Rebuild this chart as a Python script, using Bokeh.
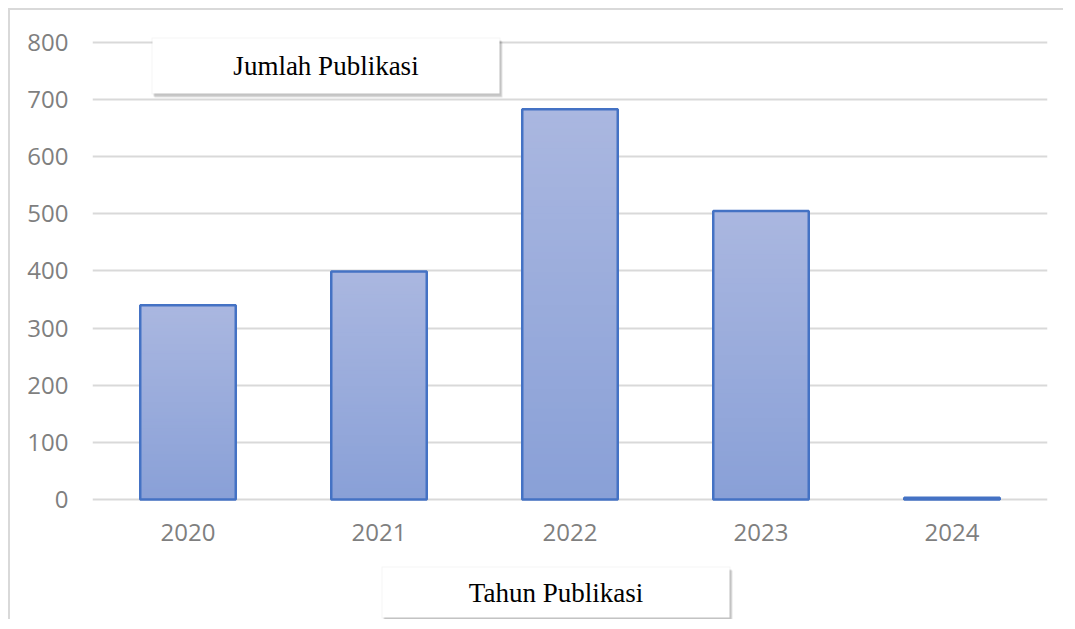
from bokeh.plotting import figure
from bokeh.models import FactorRange, Range1d, FixedTicker, BoxAnnotation, Label, ColumnDataSource
from bokeh.embed import file_html
from bokeh.resources import INLINE

# ---- data ----
years = ["2020", "2021", "2022", "2023", "2024"]
counts = [340, 399, 683, 505, 3]
y_ticks = [0, 100, 200, 300, 400, 500, 600, 700, 800]
y_title = "Jumlah Publikasi"
x_title = "Tahun Publikasi"

# ---- style ----
TOP_RGB = (170, 183, 224)
BOT_RGB = (137, 160, 215)
EDGE = "#4472c4"
GRID = "#d9d9d9"
TICK_COLOR = "#7f7f7f"

# frame spans the full canvas height so the title boxes are not clipped;
# the visible value axis still runs 0..800
p = figure(width=1055, height=611,
           x_range=FactorRange(*years, range_padding=0),
           y_range=Range1d(-213.6, 856),
           output_backend="svg", toolbar_location=None,
           min_border_left=82, min_border_top=0,
           min_border_right=18, min_border_bottom=0)
p.styles = {"border-top": "2px solid #d9d9d9", "border-left": "2px solid #d9d9d9",
            "margin-left": "8px", "margin-top": "8px"}
p.outline_line_color = None

# gradient bars: overlapping bars, tallest (lightest) first, shorter darker on top
N = 60
xs, tops, cols = [], [], []
for i in range(N - 1, -1, -1):
    f1 = (i + 1) / N
    fm = (i + 0.5) / N
    c = tuple(int(round(BOT_RGB[k] + (TOP_RGB[k] - BOT_RGB[k]) * fm)) for k in range(3))
    hexc = "#%02x%02x%02x" % c
    for yr, v in zip(years, counts):
        xs.append(yr)
        tops.append(v * f1)
        cols.append(hexc)
src = ColumnDataSource(dict(x=xs, top=tops, color=cols))
p.vbar(x="x", bottom=0, top="top", width=0.5, source=src,
       fill_color="color", line_color=None)
p.vbar(x=years, top=counts, width=0.5, fill_color=None,
       line_color=EDGE, line_width=2.5)

# axes
p.yaxis.ticker = FixedTicker(ticks=y_ticks)
p.xaxis.fixed_location = 0
for ax in (p.xaxis[0], p.yaxis[0]):
    ax.axis_line_color = None
    ax.major_tick_line_color = None
    ax.minor_tick_line_color = None
    ax.major_tick_out = 0
    ax.major_tick_in = 0
    ax.major_label_text_font = "Open Sans"
    ax.major_label_text_font_size = "24px"
    ax.major_label_text_color = TICK_COLOR
p.yaxis.major_label_standoff = 24
p.xaxis.major_label_standoff = 25

p.xgrid.grid_line_color = None
p.ygrid.grid_line_color = GRID
p.ygrid.grid_line_width = 2

# title boxes with soft shadow
def boxed(text, left, top, w, h):
    kw = dict(left_units="canvas", right_units="canvas",
              top_units="canvas", bottom_units="canvas", line_color=None)
    p.add_layout(BoxAnnotation(left=left - 1, right=left + w + 1, top=top - 1, bottom=top + h + 1,
                               fill_color="#000000", fill_alpha=0.04, **kw))
    p.add_layout(BoxAnnotation(left=left + 2, right=left + w + 3, top=top + 3, bottom=top + h + 4,
                               fill_color="#000000", fill_alpha=0.10, **kw))
    p.add_layout(BoxAnnotation(left=left + 1, right=left + w + 2, top=top + 2, bottom=top + h + 3,
                               fill_color="#000000", fill_alpha=0.13, **kw))
    p.add_layout(BoxAnnotation(left=left, right=left + w, top=top, bottom=top + h,
                               fill_color="#ffffff", fill_alpha=1.0, **kw))
    p.add_layout(Label(x=left + w / 2, y=top + h / 2, x_units="canvas", y_units="canvas",
                       text=text, text_align="center", text_baseline="middle",
                       text_font="Liberation Serif", text_font_size="27px",
                       text_color="#000000"))

boxed(y_title, 140, 26, 347, 55)
boxed(x_title, 370, 555, 347, 50)

open("out.html", "w").write(file_html(p, INLINE))
